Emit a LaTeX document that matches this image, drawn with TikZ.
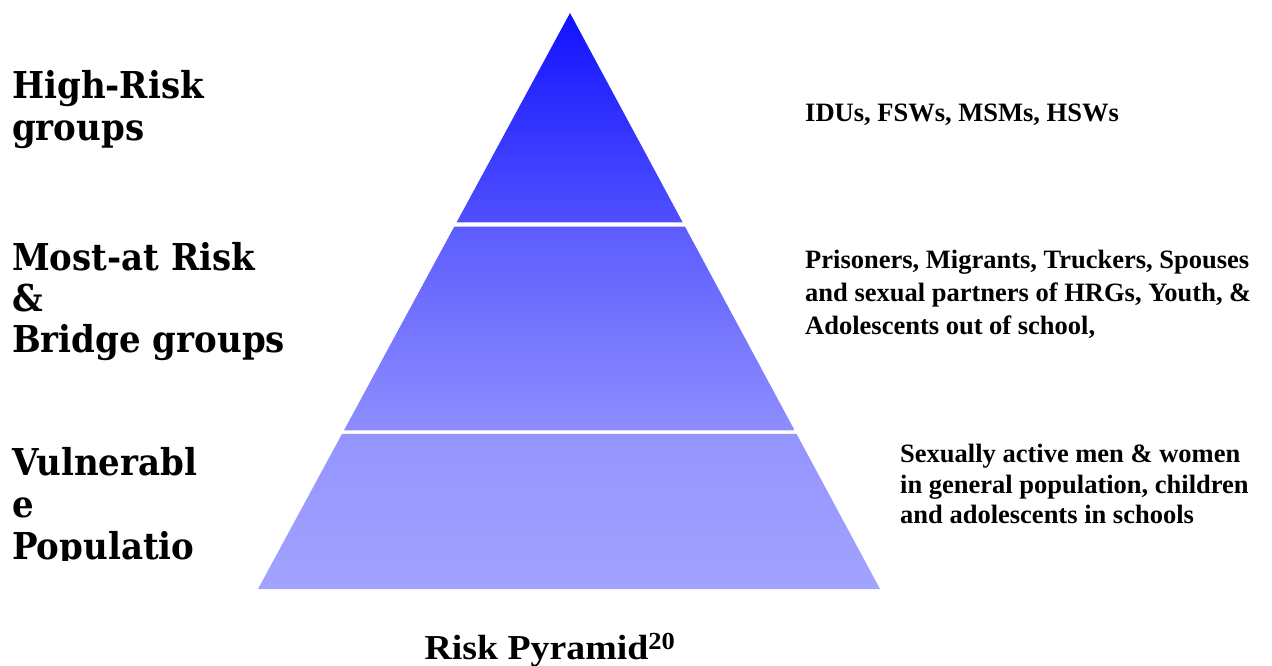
\documentclass[tikz,border=0pt]{standalone}
\usepackage{fontspec}
\setmainfont{Liberation Serif}
\newfontfamily\groupfont[FakeStretch=0.92]{DejaVu Serif}
\newfontfamily\captionfont[FakeStretch=1.08]{Liberation Serif}
\usetikzlibrary{calc}
\begin{document}
\begin{tikzpicture}[x=1pt,y=-1pt,
    grouplabel/.style={anchor=north west,inner sep=0pt,align=left,
      font=\groupfont\bfseries\fontsize{37}{#1}\selectfont},
    memberlabel/.style={anchor=north west,inner sep=0pt,align=left,
      font=\bfseries\fontsize{26.5}{#1}\selectfont}]
    \useasboundingbox (0,0) rectangle (1272,666);
    % Pyramid corners
    \coordinate (apex) at (570,13);
    \coordinate (bl) at (258,589);
    \coordinate (br) at (880,589);
    % Three layers, separated by white gaps
    \path[top color={rgb,255:red,18;green,18;blue,255},bottom color={rgb,255:red,80;green,80;blue,255}]
        (apex) -- ($(apex)!0.3637!(br)$) -- ($(apex)!0.3637!(bl)$) -- cycle;
    \path[top color={rgb,255:red,92;green,92;blue,255},bottom color={rgb,255:red,142;green,142;blue,255}]
        ($(apex)!0.3707!(bl)$) -- ($(apex)!0.3707!(br)$) -- ($(apex)!0.7248!(br)$) -- ($(apex)!0.7248!(bl)$) -- cycle;
    \path[top color={rgb,255:red,148;green,148;blue,255},bottom color={rgb,255:red,162;green,162;blue,255}]
        ($(apex)!0.7309!(bl)$) -- ($(apex)!0.7309!(br)$) -- (br) -- (bl) -- cycle;
    % Group names on the left
    \node[grouplabel=42] (high) at (12,70) {High-Risk\\groups};
    \node[grouplabel=41] (most) at (12,242) {Most-at Risk\\\&\\Bridge groups};
    \begin{scope}
        \clip (0,0) rectangle (320,560);
        \node[grouplabel=42] (vuln) at (12,447) {Vulnerabl\\e\\Populatio};
    \end{scope}
    % Members on the right
    \node[memberlabel=30] (hrg) at (805,104) {IDUs, FSWs, MSMs, HSWs};
    \node[memberlabel=33] (bridge) at (805,250) {Prisoners, Migrants, Truckers, Spouses\\and sexual partners of HRGs, Youth, \&\\Adolescents out of school,};
    \node[memberlabel=30.5] (general) at (900,444) {Sexually active men \& women\\in general population, children\\and adolescents in schools};
    % Caption
    \node[anchor=base,inner sep=0pt,font=\captionfont\bfseries\fontsize{35}{38}\selectfont] (caption) at (550,659) {Risk Pyramid\textsuperscript{20}};
\end{tikzpicture}
\end{document}
